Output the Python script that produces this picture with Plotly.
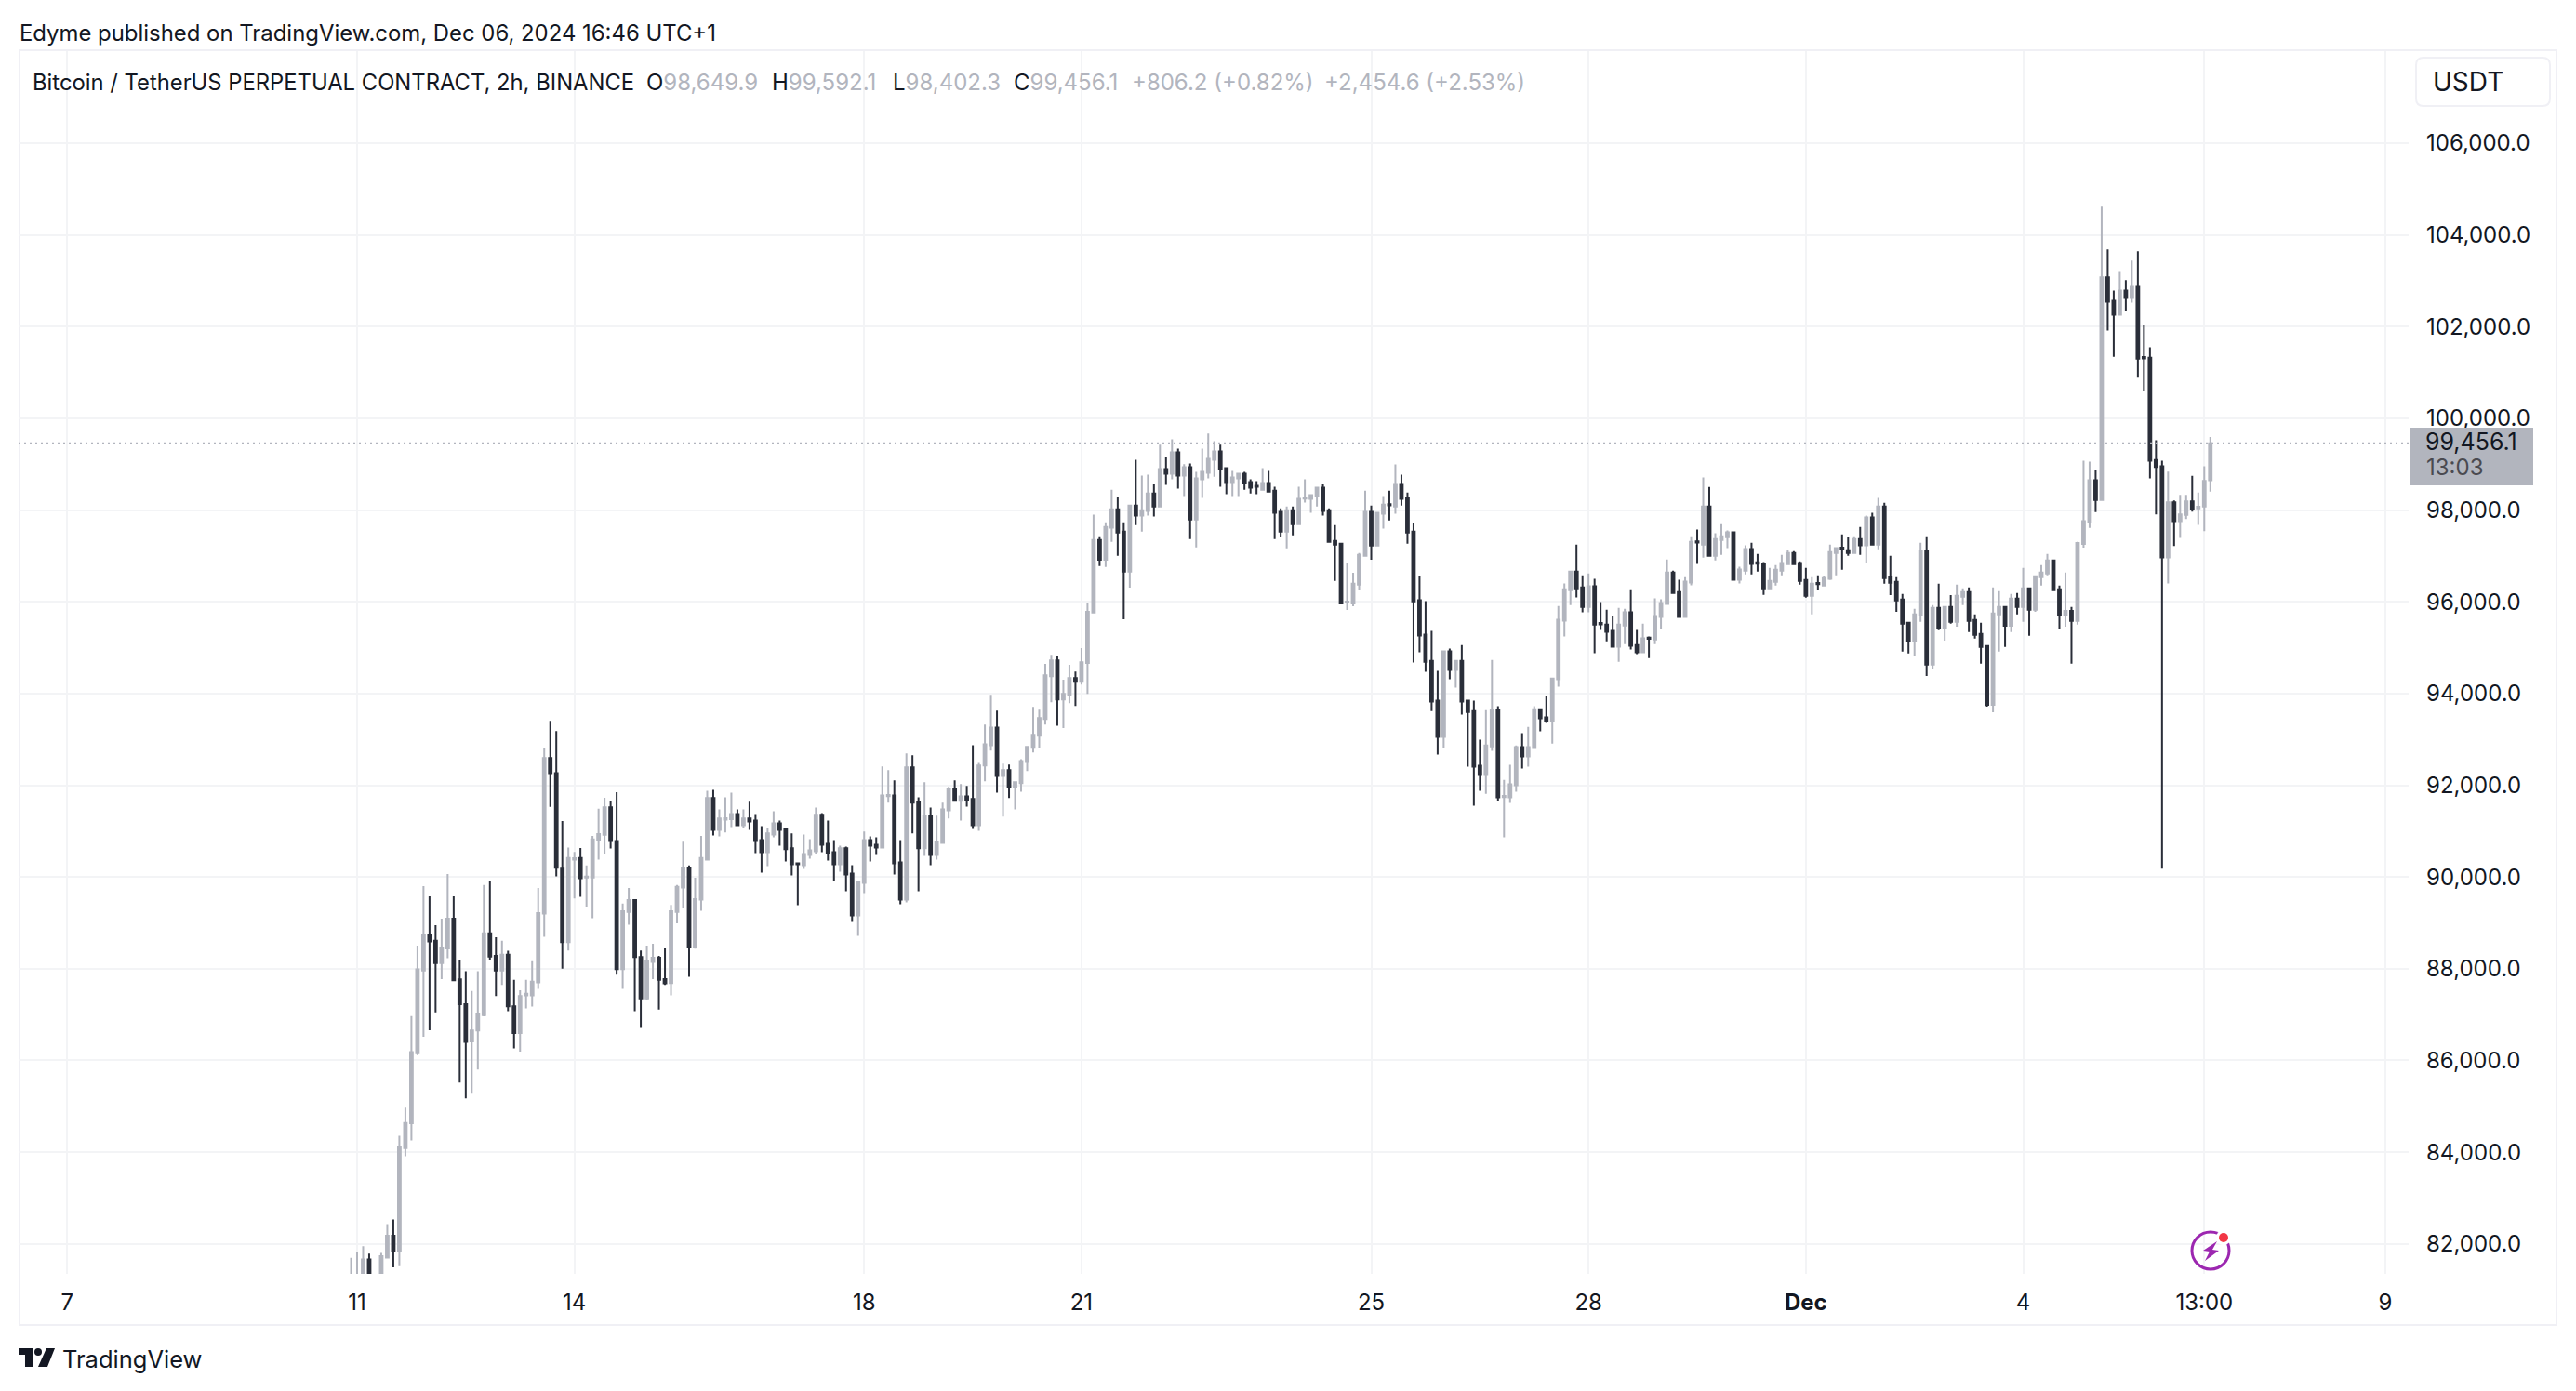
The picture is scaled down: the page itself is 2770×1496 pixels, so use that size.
import pandas as pd
import plotly.graph_objects as go

opens = [
81000,81100,81200,81660,81200,81200,81700,82175,81845,84090,
84630,86155,87960,88725,88610,88125,88445,89090,87770,87225,
86415,86655,86990,88770,88280,87960,88305,87180,86595,87420,
87420,87705,89205,92595,92265,90200,88580,90380,90415,89990,
89990,90800,90920,91520,90785,87990,89240,89495,88255,87355,
88150,88240,87775,87685,89240,89770,90205,88465,89505,90380,
91720,91030,91250,91260,91375,91130,91275,91230,90805,90540,
90925,91170,91050,90625,90300,90255,90480,90560,91355,90725,
90540,90280,90625,90075,89160,89870,90805,90705,90645,91765,
91780,90320,89505,92390,91640,90625,91335,90480,90745,91455,
91920,91660,91760,91700,91130,92430,92875,93260,92205,92330,
91965,92045,92510,92815,93080,93445,94380,94725,93870,93975,
94340,94255,94665,95765,97350,96920,97615,98020,97530,96660,
98100,97880,97980,98365,98080,98895,98795,99260,98755,98935,
97795,98670,98815,99100,99280,98915,98610,98690,98795,98610,
98530,98445,98590,98425,97960,97530,98000,97695,98250,98245,
98305,98490,98000,97330,97270,95985,95965,96375,97005,97960,
97225,97920,98130,98080,98570,98265,97530,96035,95285,94715,
93845,93055,94920,94515,94715,93845,93620,92425,92225,92850,
93640,91745,91735,92000,92830,92630,92810,93660,93480,93400,
94310,95590,96255,96660,96315,95890,96340,95540,95505,95365,
95020,95485,95770,95060,94900,95220,95180,95670,95955,96640,
96215,95670,96420,97320,97250,98080,97005,97350,97410,97515,
96480,96680,97150,96860,96825,96295,96435,96680,96820,97065,
96845,96475,96130,96410,96355,96500,97065,97180,97125,97065,
97370,97230,97840,97250,98080,96540,96435,96050,95545,95155,
95705,97105,94630,95870,95440,95890,95565,96110,96215,95605,
95300,95035,93755,95725,95890,95480,96070,95890,96295,95830,
96540,96620,96905,96275,95705,95805,95585,97265,97740,98650,
98220,103075,102565,102260,102790,102625,102870,101340,101325,99095,
98955,96970,98170,97760,97895,98190,98040,98080,98649.9,
]

highs = [
81695,81830,81950,81785,81300,81800,82430,82530,84355,84970,
86965,88505,89800,89580,88950,89090,90065,89580,88180,87945,
87515,87945,89825,89925,88685,88610,88390,87760,87530,87760,
88165,89760,92800,93405,93180,91220,90645,90545,90630,90250,
90895,91490,91725,91645,91850,89420,89760,89500,88395,88505,
88545,88280,88445,89390,89825,90770,90250,89985,90895,91880,
91900,91475,91735,91840,91475,91475,91640,91375,91110,91070,
91435,91230,91050,90950,90300,90925,90825,91515,91395,91230,
90805,90685,90665,90255,89910,90990,90885,90865,92410,92330,
92105,90805,92695,92655,91740,92065,91515,91335,91620,91965,
92105,92025,91985,92875,92490,93325,93975,93630,92470,92450,
92085,92570,92855,93710,93650,94645,94845,94825,94300,94625,
94480,94990,95985,97900,97430,97735,98445,98285,97735,98100,
99100,98755,98775,98570,99425,99160,99545,99340,99000,99015,
98835,99340,99670,99505,99425,98935,98855,98795,98835,98670,
98630,98915,98855,98510,98040,98080,98080,98510,98670,98345,
98490,98570,98040,97675,97290,96840,96635,97065,98425,98100,
97940,98305,98425,98995,98775,98385,97715,96560,96015,95365,
94495,94920,94980,94735,95060,93845,93845,92995,93640,94735,
93725,92120,92445,92870,93135,93275,93725,93660,93945,94330,
95910,96400,96680,97250,96580,96620,96500,95995,95830,95690,
95870,95850,96275,95385,95525,95245,96075,96055,96925,96680,
96480,96540,97430,97575,98710,98505,97495,97695,97555,97515,
96765,97230,97290,97045,96865,96740,96800,97025,97125,97105,
96885,96740,96540,96580,96560,97250,97190,97470,97410,97430,
97635,97880,97940,98265,98160,97005,96540,96175,95565,95850,
97290,97430,95930,96395,95890,96150,96375,96295,96315,95725,
95545,95035,96315,96235,95890,96175,96195,96740,96295,96560,
96800,97045,96925,96355,96640,95890,97310,99075,99055,98870,
104620,103685,102790,103215,103015,103440,103645,102045,101550,99525,
99075,98840,98210,98330,98330,98750,98385,98955,99592.1,
]

lows = [
80800,80900,81000,81000,80800,81000,81690,81490,81515,83910,
84255,86115,86515,86660,87050,87775,88230,87735,85520,85175,
85275,85800,86960,88190,87405,87645,87075,86265,86190,87135,
87175,87560,88695,91530,90015,88000,88395,89530,89570,89345,
89100,90380,90495,90620,87870,87560,88960,87075,86710,87325,
87775,87110,87645,87420,88990,89315,87825,88440,89265,90360,
90905,90885,90970,91090,91110,91070,91030,90520,90095,90235,
90865,90685,90340,90035,89385,90175,90400,90500,90540,90360,
89910,90115,89690,89020,88715,89650,90340,90480,90640,91620,
90055,89405,89445,90950,89690,90460,90255,90380,90740,91275,
91640,91230,91535,91050,91010,92085,92755,91840,91315,91720,
91475,91860,92310,92715,92815,93325,93810,93300,93250,93790,
93730,94195,93995,95760,96780,96760,97310,97005,95620,96310,
97675,97530,97880,97860,98060,98550,98670,98470,98305,97370,
97185,98265,98690,98730,98510,98345,98305,98305,98445,98365,
98345,98445,98405,97370,97410,97165,97450,97675,98165,97940,
98080,97880,97290,96455,95965,95825,95905,96250,97005,96920,
97225,97595,97775,97920,98100,97270,94675,94900,94475,93620,
92670,92810,94310,94130,93540,92405,91555,91880,91815,92750,
91655,90865,91615,91860,92365,92405,92810,93175,93360,92910,
94150,95245,95930,96095,95770,95770,94880,95385,95140,95000,
94695,95080,94960,94860,94900,94775,95080,95405,95955,96195,
95670,95670,96360,96825,96965,97005,96905,97025,97170,96480,
96400,96600,96600,96660,96155,96295,96355,96580,96820,96820,
96375,96090,95725,96255,96355,96475,96580,96700,97005,97045,
97025,96845,97250,97145,96395,96150,95785,94915,94875,94810,
95565,94385,94530,95380,95155,95525,95460,95930,95340,95200,
94650,93715,93595,94915,95015,95340,95725,95565,95260,95785,
96355,96580,96235,95400,95460,94650,95505,97180,97610,97955,
98200,101915,101345,102260,102350,102525,100905,100600,98690,97905,
90180,96400,97215,97395,97805,97965,97680,97540,98402.3,
]

closes = [
81200,81300,81660,81200,81000,81730,82175,81845,84115,84635,
86180,87985,88725,88595,88125,88465,89090,87750,87225,86405,
86655,87010,88770,88265,87960,88305,87180,86595,87405,87455,
87720,89215,92595,92265,90200,88580,90415,90410,89975,90010,
90820,90935,91520,90785,87990,89255,89495,88255,87355,88165,
88240,87760,87680,89255,89785,90205,88465,89515,90415,91720,
91030,91275,91280,91375,91130,91275,91210,90785,90540,90950,
91170,91030,90605,90280,90280,90500,90580,91355,90705,90520,
90280,90625,90055,89160,89890,90805,90685,90645,91780,91790,
90300,89505,92390,91620,90625,91335,90480,90765,91475,91920,
91660,91760,91680,91130,92430,92895,93260,92205,92330,91965,
92065,92530,92835,93100,93465,94400,94725,93870,93995,94340,
94255,94685,95785,97350,96920,97635,98020,97510,96660,98100,
97880,98000,98365,98080,98895,98795,99260,98755,98935,97795,
98690,98835,99120,99280,98895,98610,98710,98795,98590,98490,
98510,98590,98405,97940,97530,98000,97695,98245,98275,98325,
98490,97980,97310,97245,95965,96005,96395,97025,97960,97225,
97940,98120,98105,98570,98245,97510,96010,95265,94695,93825,
93055,94920,94515,94715,93825,93600,92405,92225,92870,93640,
91735,91770,92020,92830,92630,92830,93660,93460,93400,94330,
95610,96275,96660,96295,95890,96340,95505,95510,95345,95020,
95505,95770,95040,94900,95205,95195,95690,95975,96640,96195,
95670,96440,97310,97295,98080,97005,97370,97430,97515,96480,
96705,97150,96825,96830,96295,96455,96700,96845,97065,96820,
96455,96130,96395,96385,96520,97085,97170,97155,97065,97370,
97230,97840,97250,98080,96520,96415,96030,95525,95155,95725,
97105,94630,95870,95440,95890,95565,96130,96215,95585,95280,
95015,93755,95745,95890,95480,96070,95890,96295,95830,96560,
96640,96905,96255,95705,95805,95585,97285,97760,98650,98220,
103075,102545,102260,102790,102625,102870,101305,101310,99075,98940,
96970,98170,97760,97905,98190,98025,98075,98635,99456.1,
]

times = pd.date_range("2024-11-10 22:00", periods=len(closes), freq="2h")

x_tick_dates = ["2024-11-07", "2024-11-11", "2024-11-14", "2024-11-18", "2024-11-21", "2024-11-25",
                "2024-11-28", "2024-12-01", "2024-12-04", "2024-12-06 12:00", "2024-12-09"]
x_tick_labels = ["7", "11", "14", "18", "21", "25", "28", "<b>Dec</b>", "4", "13:00", "9"]
y_ticks = list(range(82000, 108000, 2000))
last_price = closes[-1]

UP, DOWN = "#B2B5BE", "#2A2E39"
TEXT, GRID, FRAME = "#131722", "#F3F4F6", "#F0F0F5"
FONT = "Inter"

# decoration coordinates are page pixels, converted to the plot's paper fractions
L, R, T, B = 20, 2590, 55, 1370
def px(v): return (v - L) / (R - L)
def py(v): return 1 - (v - T) / (B - T)
def path(points):
    return "M" + " L".join(f"{px(a):.5f},{py(b):.5f}" for a, b in points) + " Z"

fig = go.Figure(go.Candlestick(
    x=times, open=opens, high=highs, low=lows, close=closes,
    increasing=dict(line=dict(color=UP, width=2), fillcolor=UP),
    decreasing=dict(line=dict(color=DOWN, width=2), fillcolor=DOWN),
    whiskerwidth=0, showlegend=False,
))

shapes = [
    dict(type="rect", xref="paper", yref="paper", x0=px(21), x1=px(2749), y0=py(54), y1=py(1425),
         line=dict(color=FRAME, width=2), layer="below"),
    dict(type="line", xref="paper", yref="y", x0=0, x1=1, y0=last_price, y1=last_price,
         line=dict(color=UP, width=2, dash="2px,4px"), layer="above"),
    dict(type="rect", xref="paper", yref="paper", x0=px(2592), x1=px(2724), y0=py(460), y1=py(522),
         fillcolor=UP, line=dict(width=0), layer="above"),
    dict(type="path", xref="paper", yref="paper",
         path=("M{0:.5f},{1:.5f} L{2:.5f},{1:.5f} Q{3:.5f},{1:.5f} {3:.5f},{4:.5f} L{3:.5f},{5:.5f} "
               "Q{3:.5f},{6:.5f} {2:.5f},{6:.5f} L{0:.5f},{6:.5f} Q{7:.5f},{6:.5f} {7:.5f},{5:.5f} "
               "L{7:.5f},{4:.5f} Q{7:.5f},{1:.5f} {0:.5f},{1:.5f} Z").format(
             px(2606), py(62), px(2734), px(2742), py(70), py(106), py(114), px(2598)),
         fillcolor="#FFFFFF", line=dict(color=FRAME, width=2), layer="above"),
    # lightning badge
    dict(type="circle", xref="paper", yref="paper", x0=px(2357), x1=px(2397), y0=py(1325), y1=py(1365),
         fillcolor="rgba(255,255,255,0)", line=dict(color="#9C27B0", width=3), layer="above"),
    dict(type="circle", xref="paper", yref="paper", x0=px(2383), x1=px(2399), y0=py(1323), y1=py(1339),
         fillcolor="#FFFFFF", line=dict(width=0), layer="above"),
    dict(type="circle", xref="paper", yref="paper", x0=px(2386), x1=px(2396), y0=py(1326), y1=py(1336),
         fillcolor="#F23645", line=dict(width=0), layer="above"),
    dict(type="path", xref="paper", yref="paper",
         path=path([(2384, 1335), (2369, 1345), (2376, 1346), (2371, 1356), (2386, 1345), (2379, 1344)]),
         fillcolor="#9C27B0", line=dict(width=0), layer="above"),
    # TradingView logo
    dict(type="path", xref="paper", yref="paper",
         path=path([(20, 1450), (35, 1450), (35, 1470), (27, 1470), (27, 1457), (20, 1457)]),
         fillcolor=TEXT, line=dict(width=0), layer="above"),
    dict(type="circle", xref="paper", yref="paper", x0=px(37), x1=px(45), y0=py(1450), y1=py(1458),
         fillcolor=TEXT, line=dict(width=0), layer="above"),
    dict(type="path", xref="paper", yref="paper",
         path=path([(50, 1450), (59, 1450), (51, 1470), (41, 1470)]),
         fillcolor=TEXT, line=dict(width=0), layer="above"),
]

def note(text, x, y, size, color=TEXT, anchor="left"):
    return dict(text=text, xref="paper", yref="paper", x=px(x), y=py(y), xanchor=anchor, yanchor="middle",
                showarrow=False, font=dict(family=FONT, size=size, color=color), borderpad=0, borderwidth=0)

def ohlc(letter, value):
    return f"{letter}<span style='color:{UP}'>{value}</span>"

annotations = [
    note("Edyme published on TradingView.com, Dec 06, 2024 16:46 UTC+1", 21, 35, 23.9),
    note("Bitcoin / TetherUS PERPETUAL CONTRACT, 2h, BINANCE", 35, 89, 23.8),
    note(ohlc("O", "98,649.9"), 695, 89, 24),
    note(ohlc("H", "99,592.1"), 830, 89, 24),
    note(ohlc("L", "98,402.3"), 960, 89, 24),
    note(ohlc("C", "99,456.1"), 1090, 89, 24),
    note("+806.2 (+0.82%)", 1217, 89, 24, UP),
    note("+2,454.6 (+2.53%)", 1424, 89, 24, UP),
    note("USDT", 2616, 88, 28),
    note("99,456.1", 2608, 475, 25),
    note("13:03", 2609, 503, 24, "#4A4A50"),
    note("TradingView", 67, 1461, 25.5),
]

fig.update_layout(
    width=2754, height=1480, autosize=False,
    margin=dict(l=12, r=172, t=47, b=118, pad=0),
    paper_bgcolor="#FFFFFF", plot_bgcolor="#FFFFFF",
    boxgap=0.38, showlegend=False,
    font=dict(family=FONT, size=24, color=TEXT),
    shapes=shapes, annotations=annotations,
    xaxis=dict(
        type="date", range=["2024-11-06 07:51", "2024-12-09 07:42"],
        rangeslider=dict(visible=False),
        tickmode="array", tickvals=x_tick_dates, ticktext=x_tick_labels,
        showgrid=True, gridcolor=GRID, gridwidth=2, zeroline=False, showline=False,
        ticks="", ticklabelstandoff=14, tickfont=dict(family=FONT, size=24, color=TEXT),
    ),
    yaxis=dict(
        side="right", range=[81346, 108009], tickmode="array", tickvals=y_ticks,
        ticktext=[f"{v:,.1f}" for v in y_ticks],
        showgrid=True, gridcolor=GRID, gridwidth=2, zeroline=False, showline=False,
        ticks="", ticklabelstandoff=18, tickfont=dict(family=FONT, size=24, color=TEXT),
    ),
)

fig.write_html("out.html")
